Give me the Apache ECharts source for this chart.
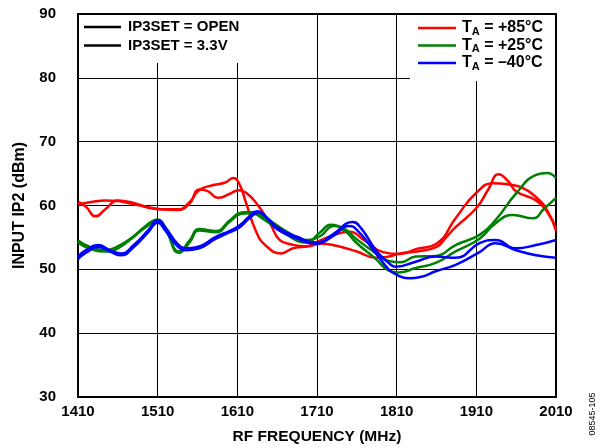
<!DOCTYPE html>
<html><head><meta charset="utf-8">
<script src="https://cdn.jsdelivr.net/npm/echarts@6/dist/echarts.min.js"></script>
<style>html,body{margin:0;padding:0;background:#fff}#c{width:600px;height:448px}</style>
</head><body><div id="c"></div>
<script>
// Data (frequency MHz, input IP2 dBm)
const red85_open = [[1410,60.6],[1420,59.8],[1432,58.3],[1445,59.5],[1460,60.8],[1480,60.4],[1500,59.6],[1515,59.4],[1535,59.4],[1550,60.5],[1562,62.4],[1580,63.2],[1595,63.6],[1605,64.3],[1612,63.5],[1621,60.4],[1633,56.1],[1645,53.8],[1665,52.5],[1680,53.3],[1700,53.6],[1715,54],[1730,53.8],[1760,52.8],[1784,51.8],[1800,52],[1814,52.5],[1835,52.8],[1860,53.5],[1872,55],[1884,56.6],[1910,59.6],[1925,62.5],[1938,64.9],[1950,63.8],[1960,62.2],[1985,60.8],[2000,58.8],[2010,56.4]];
const red85_33 = [[1410,60.2],[1425,60.5],[1445,60.8],[1460,60.7],[1480,60.2],[1500,59.7],[1515,59.4],[1535,59.3],[1550,60.3],[1562,62.5],[1572,62.3],[1586,61.2],[1600,61.8],[1612,62.4],[1621,62],[1633,60.5],[1651,57.2],[1663,54.6],[1678,53.9],[1695,53.6],[1710,54.3],[1730,55.3],[1750,55.9],[1770,54.5],[1793,52.7],[1814,52.4],[1835,53.2],[1860,54],[1884,58],[1910,62],[1932,63.5],[1950,63.3],[1965,62.9],[1985,61.3],[2000,59],[2010,56]];
const green25_open = [[1410,54.5],[1425,53.5],[1445,53],[1460,53.6],[1479,55.1],[1495,56.8],[1510,57.8],[1520,56.5],[1537,52.8],[1550,54.5],[1562,56.3],[1583,56],[1600,57.6],[1615,58.9],[1625,59],[1646,58],[1671,56],[1696,54.6],[1714,55.2],[1731,56.8],[1745,56.3],[1759,54.8],[1784,52.5],[1800,51.3],[1815,51.1],[1834,52],[1859,52.1],[1884,53.8],[1914,55.4],[1934,57.7],[1960,61.9],[1985,64.8],[1999,65.1],[2010,64.3]];
const green25_33 = [[1410,54.2],[1425,53.2],[1445,52.8],[1460,53.3],[1479,55],[1495,56.6],[1510,57.6],[1520,56.2],[1537,52.6],[1550,54.2],[1562,56.1],[1583,55.8],[1600,57.4],[1615,58.7],[1625,58.8],[1646,57.6],[1671,55.5],[1696,54.2],[1714,55.8],[1727,57],[1745,56],[1759,54.2],[1784,51.6],[1800,49.8],[1812,49.5],[1834,50.2],[1859,51],[1884,52.8],[1914,54.8],[1934,57.2],[1956,58.5],[1981,58],[1995,59.5],[2010,61.2]];
const blue40_open = [[1410,52],[1420,53],[1435,53.8],[1450,53],[1464,52.5],[1480,53.8],[1498,56.1],[1510,57.7],[1520,56.5],[1535,54],[1546,53.3],[1560,53.5],[1583,55.1],[1600,56],[1613,56.9],[1625,58.3],[1635,59.1],[1648,58],[1660,56.6],[1685,55.1],[1709,54.2],[1730,55.5],[1755,57.4],[1765,56.5],[1784,53],[1800,51],[1809,50.4],[1834,51.2],[1859,52],[1884,51.8],[1914,54.1],[1934,54.6],[1960,53.3],[1985,53.8],[2010,54.6]];
const blue40_33 = [[1410,51.6],[1420,52.6],[1435,53.5],[1450,52.8],[1464,52.2],[1480,53.5],[1498,55.8],[1510,57.3],[1520,56],[1535,53.6],[1546,53],[1560,53.2],[1583,54.8],[1600,55.8],[1613,56.6],[1625,58],[1637,58.9],[1650,57.6],[1660,56.3],[1685,54.8],[1709,54],[1730,55.2],[1750,56.8],[1760,56.2],[1784,52.5],[1800,50],[1809,49.2],[1825,48.6],[1840,48.8],[1859,49.7],[1884,50.7],[1914,52.7],[1934,54.1],[1960,53],[1985,52.2],[2010,51.8]];

const ip3Legend = ['IP3SET = OPEN', 'IP3SET = 3.3V'];
const tempLegend = [['+85°C','#ff0000'],['+25°C','#008000'],['–40°C','#0000ff']];

const FONT = 'Liberation Sans, Arial, sans-serif';
const chart = echarts.init(document.getElementById('c'), null, {renderer:'canvas'});

function mk(name, data, color) {
  return {name, type:'line', data, smooth:0.5, showSymbol:false, z:5,
    lineStyle:{color, width:2.5}, itemStyle:{color}};
}

const graphics = [
  {type:'rect', shape:{x:80, y:15, width:172, height:48}, style:{fill:'#fff'}, z:1},
  {type:'rect', shape:{x:410, y:15, width:145, height:66}, style:{fill:'#fff'}, z:1},
];
ip3Legend.forEach((t,i)=>{
  const y = 27 + i*18.5;
  graphics.push({type:'line', shape:{x1:84,y1:y,x2:121,y2:y}, style:{stroke:'#000', lineWidth:2.5}, z:3});
  graphics.push({type:'text', x:128, y:y, style:{text:t, fill:'#000', font:'bold 15px '+FONT, textVerticalAlign:'middle'}, z:3});
});
tempLegend.forEach((t,i)=>{
  const y = 28 + i*17.5;
  graphics.push({type:'line', shape:{x1:418,y1:y,x2:456,y2:y}, style:{stroke:t[1], lineWidth:2.5}, z:3});
  graphics.push({type:'text', x:462, y:y, style:{
    text:'T{s|A} = '+t[0], fill:'#000', font:'bold 16px '+FONT, textVerticalAlign:'middle',
    rich:{s:{font:'bold 11px '+FONT, verticalAlign:'bottom', padding:[7,0,0,0]}}}, z:3});
});
graphics.push({type:'text', x:593, y:414, rotation:Math.PI/2, style:{text:'08545-105', fill:'#000', font:'9px '+FONT, textAlign:'center', textVerticalAlign:'middle'}});

chart.setOption({
  animation:false,
  backgroundColor:'#fff',
  grid:{left:78, right:44, top:14, bottom:51, show:true, borderColor:'#000', borderWidth:2, outerBoundsMode:'none', containLabel:false},
  xAxis:{type:'value', min:1410, max:2010, interval:100,
    name:'RF FREQUENCY (MHz)', nameLocation:'middle', nameGap:32,
    nameTextStyle:{fontFamily:FONT, fontWeight:'bold', fontSize:15.5, color:'#000'},
    axisLine:{show:true, lineStyle:{color:'#000', width:2}},
    axisTick:{show:false},
    axisLabel:{fontFamily:FONT, fontWeight:'bold', fontSize:15, color:'#000', margin:7, formatter:v=>String(v)},
    splitLine:{show:true, lineStyle:{color:'#000', width:1}}},
  yAxis:{type:'value', min:30, max:90, interval:10,
    name:'INPUT IP2 (dBm)', nameLocation:'middle', nameGap:50,
    nameTextStyle:{fontFamily:FONT, fontWeight:'bold', fontSize:16, color:'#000'},
    axisLine:{show:true, lineStyle:{color:'#000', width:2}},
    axisTick:{show:false},
    axisLabel:{fontFamily:FONT, fontWeight:'bold', fontSize:15, color:'#000', margin:22},
    splitLine:{show:true, lineStyle:{color:'#000', width:1}}},
  series:[
    mk('85 OPEN', red85_open, '#ff0000'),
    mk('85 3.3V', red85_33, '#ff0000'),
    mk('25 OPEN', green25_open, '#008000'),
    mk('25 3.3V', green25_33, '#008000'),
    mk('-40 OPEN', blue40_open, '#0000ff'),
    mk('-40 3.3V', blue40_33, '#0000ff'),
  ],
  graphic:graphics
});
</script></body></html>
